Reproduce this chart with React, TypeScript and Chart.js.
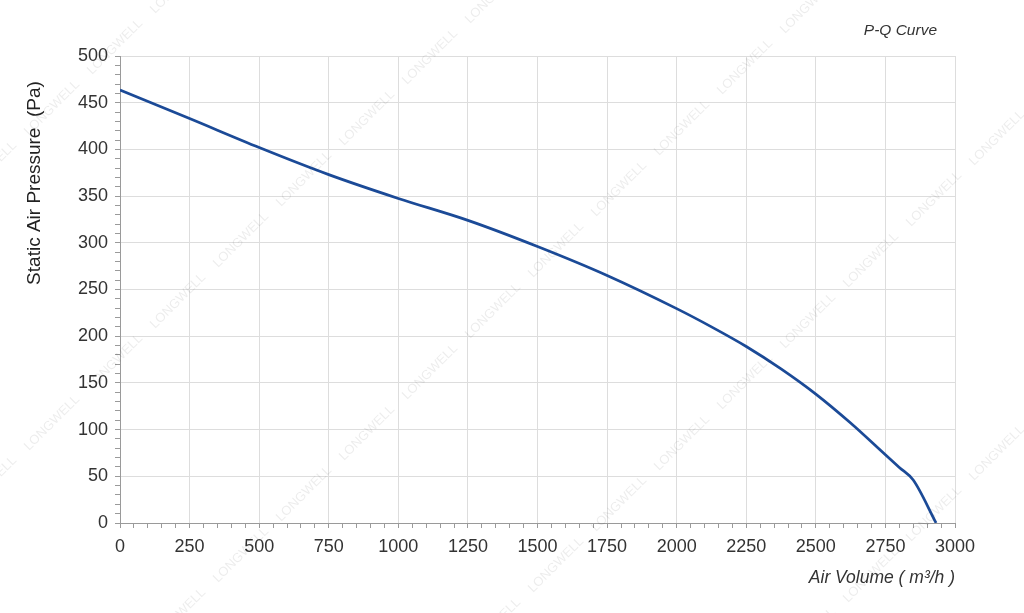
import { useEffect, useRef } from 'react';
import { Chart, registerables } from 'chart.js';

Chart.register(...registerables);

// Air volume (m³/h) sampled along the P-Q curve
const airVolume = [0, 250, 500, 750, 1000, 1250, 1500, 1750, 2000, 2125, 2250, 2375, 2500, 2625, 2750, 2800, 2850, 2932];
// Static air pressure (Pa) at each air volume
const staticPressure = [463.5, 433, 402, 373, 347.5, 324, 296, 265, 229.5, 210, 189, 165, 138, 107, 73, 59.5, 46, 0];

const xMajorStep = 250;
const xMinorStep = 50;
const yMajorStep = 50;
const yMinorStep = 10;

const chartTitle = 'P-Q Curve';
const xAxisTitle = 'Air Volume ( m³/h )';
const yAxisTitle = 'Static Air Pressure  (Pa)';
const watermark = 'LONGWELL';

const FONT = '"Liberation Sans", Arial, Helvetica, sans-serif';

const textPlugin = {
  id: 'extraText',
  afterDraw(chart: any) {
    const ctx = chart.ctx;
    const area = chart.chartArea;
    ctx.save();
    // chart title (top right)
    ctx.fillStyle = '#333333';
    ctx.font = `italic 15.5px ${FONT}`;
    ctx.textAlign = 'right';
    ctx.textBaseline = 'middle';
    ctx.fillText(chartTitle, area.right - 18, 31);
    // y axis title
    ctx.font = `19px ${FONT}`;
    ctx.fillStyle = '#222222';
    ctx.translate(35, 183);
    ctx.rotate(-Math.PI / 2);
    ctx.textAlign = 'center';
    ctx.fillText(yAxisTitle, 0, 0);
    ctx.restore();

    // faint watermark
    ctx.save();
    ctx.font = `13px ${FONT}`;
    ctx.fillStyle = 'rgba(0,0,0,0.075)';
    ctx.textAlign = 'center';
    ctx.textBaseline = 'middle';
    for (let i = -2; i < 6; i++) {
      for (let j = -8; j < 14; j++) {
        const x = 241 + 315 * i - 63 * j;
        const y = 240 + 10 * i + 61 * j;
        if (x < -60 || x > 1090 || y < -40 || y > 650) continue;
        ctx.save();
        ctx.translate(x, y);
        ctx.rotate(-Math.PI / 4);
        ctx.fillText(watermark, 0, 0);
        ctx.restore();
      }
    }
    ctx.restore();
  },
};

export default function App() {
  const canvasRef = useRef<HTMLCanvasElement | null>(null);

  useEffect(() => {
    if (!canvasRef.current) return;
    const chart = new Chart(canvasRef.current, {
      type: 'line',
      data: {
        datasets: [
          {
            label: 'P-Q',
            data: airVolume.map((x, i) => ({ x, y: staticPressure[i] })),
            borderColor: '#1b4a97',
            borderWidth: 2.7,
            pointRadius: 0,
            fill: false,
            cubicInterpolationMode: 'monotone',
          },
        ],
      },
      options: {
        animation: false,
        responsive: true,
        maintainAspectRatio: false,
        layout: { padding: { top: 56, right: 69, bottom: 20, left: 0 } },
        plugins: {
          legend: { display: false },
          tooltip: { enabled: false },
          title: { display: false },
        },
        scales: {
          x: {
            type: 'linear',
            min: 0,
            max: 3000,
            afterFit: (scale: any) => {
              scale.height = 70;
            },
            ticks: {
              stepSize: xMinorStep,
              autoSkip: false,
              maxRotation: 0,
              minRotation: 0,
              padding: 8,
              color: '#333333',
              font: { family: FONT, size: 18 },
              callback: (v: any) => (Number(v) % xMajorStep === 0 ? String(v) : ''),
            },
            grid: {
              color: (c: any) => (c.tick && c.tick.value % xMajorStep === 0 ? '#dddddd' : 'rgba(0,0,0,0)'),
              tickColor: '#9a9a9a',
              tickLength: 5,
              lineWidth: 1,
            },
            border: { display: true, color: '#9a9a9a', width: 1 },
            title: {
              display: true,
              text: xAxisTitle,
              align: 'end',
              color: '#333333',
              font: { family: FONT, size: 17.5, style: 'italic' },
              padding: { top: 4, bottom: 4 },
            },
          },
          y: {
            type: 'linear',
            min: 0,
            max: 500,
            afterFit: (scale: any) => {
              scale.width = 120;
            },
            ticks: {
              stepSize: yMinorStep,
              autoSkip: false,
              padding: 7,
              color: '#333333',
              font: { family: FONT, size: 18 },
              callback: (v: any) => (Number(v) % yMajorStep === 0 ? String(v) : ''),
            },
            grid: {
              color: (c: any) => (c.tick && c.tick.value % yMajorStep === 0 ? '#dddddd' : 'rgba(0,0,0,0)'),
              tickColor: '#9a9a9a',
              tickLength: 5,
              lineWidth: 1,
            },
            border: { display: true, color: '#9a9a9a', width: 1 },
          },
        },
      },
      plugins: [textPlugin],
    } as any);
    return () => chart.destroy();
  }, []);

  return (
    <div style={{ position: 'absolute', left: 0, top: 0, width: 1024, height: 613, background: '#ffffff' }}>
      <canvas ref={canvasRef} />
    </div>
  );
}
